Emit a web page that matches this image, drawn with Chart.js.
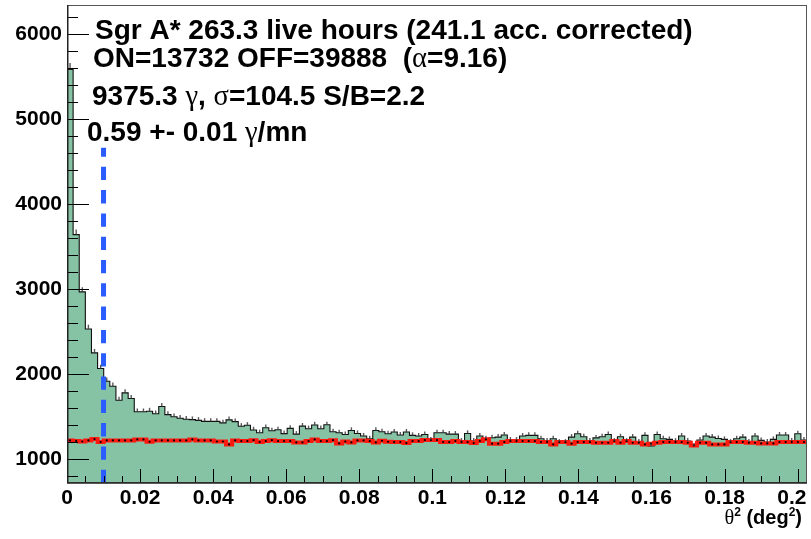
<!DOCTYPE html>
<html>
<head>
<meta charset="utf-8">
<script src="https://cdn.jsdelivr.net/npm/chart.js@4.4.1/dist/chart.umd.min.js"></script>
<style>
  html, body { margin: 0; padding: 0; background: #fff; }
</style>
</head>
<body>
<canvas id="theta2" width="811" height="539"></canvas>
<script>
// theta^2 histogram, ON counts per bin (bin width ~0.00167 deg^2)
const binWidth = 0.001674;
const onCounts = [
  5586, 3640, 2965, 2529, 2247, 2062, 1913, 1854, 1689, 1776,
  1709, 1553, 1553, 1560, 1529, 1615, 1520, 1495, 1476, 1465,
  1460, 1452, 1440, 1440, 1440, 1422, 1458, 1437, 1382, 1394,
  1339, 1306, 1365, 1330, 1341, 1296, 1358, 1290, 1384, 1353,
  1398, 1353, 1400, 1318, 1306, 1286, 1333, 1298, 1267, 1235,
  1333, 1318, 1294, 1314, 1279, 1314, 1275, 1267, 1286, 1220,
  1306, 1306, 1290, 1290, 1208, 1298, 1208, 1267, 1235, 1247,
  1255, 1279, 1220, 1220, 1267, 1275, 1275, 1235, 1208, 1235,
  1196, 1196, 1255, 1294, 1259, 1208, 1245, 1259, 1286, 1208,
  1259, 1208, 1255, 1196, 1275, 1149, 1286, 1235, 1228, 1208,
  1267, 1208, 1149, 1220, 1267, 1255, 1239, 1228, 1196, 1235,
  1255, 1196, 1267, 1216, 1196, 1228, 1279, 1279, 1208, 1294,
  1220
];
// error bar half-length (counts)
const onErr = [
  75, 60, 54, 50, 47, 45, 44, 43, 41, 42, 41, 39, 39, 40, 39, 40, 39, 39, 38, 38,
  38, 38, 38, 38, 38, 38, 38, 38, 37, 37, 37, 36, 37, 36, 37, 36, 37, 36, 37, 37,
  37, 37, 37, 36, 36, 36, 37, 36, 36, 35, 37, 36, 36, 36, 36, 36, 36, 36, 36, 35,
  36, 36, 36, 36, 35, 36, 35, 36, 35, 35, 35, 36, 35, 35, 36, 36, 36, 35, 35, 35,
  35, 35, 35, 36, 35, 35, 35, 35, 36, 35, 35, 35, 35, 35, 36, 34, 36, 35, 35, 35,
  36, 35, 34, 35, 36, 35, 35, 35, 35, 35, 35, 35, 36, 35, 35, 35, 36, 36, 35, 36,
  35
];
// OFF counts scaled by 1/alpha (red background)
const offScaled = [
  1215, 1210, 1203, 1215, 1231, 1196, 1215, 1215, 1215, 1215,
  1215, 1227, 1227, 1200, 1215, 1215, 1215, 1215, 1215, 1215,
  1227, 1215, 1215, 1215, 1203, 1203, 1168, 1215, 1208, 1208,
  1218, 1196, 1208, 1218, 1208, 1208, 1208, 1192, 1192, 1208,
  1227, 1208, 1208, 1218, 1180, 1203, 1192, 1215, 1215, 1208,
  1192, 1212, 1200, 1196, 1196, 1184, 1208, 1208, 1220, 1220,
  1220, 1196, 1196, 1208, 1196, 1196, 1184, 1208, 1228, 1177,
  1177, 1196, 1208, 1208, 1208, 1208, 1208, 1196, 1196, 1169,
  1196, 1196, 1177, 1196, 1196, 1196, 1188, 1188, 1188, 1208,
  1188, 1208, 1188, 1188, 1169, 1177, 1188, 1196, 1196, 1196,
  1196, 1188, 1157, 1188, 1188, 1169, 1169, 1169, 1196, 1196,
  1196, 1188, 1188, 1180, 1180, 1180, 1196, 1196, 1196, 1196,
  1196
];
const xTicks = [0, 0.02, 0.04, 0.06, 0.08, 0.1, 0.12, 0.14, 0.16, 0.18, 0.2];
const yTicks = [1000, 2000, 3000, 4000, 5000, 6000];
const xMin = 0, xMax = 0.20255;
const yMin = 714, yMax = 6345;
const cutTheta2 = 0.01;
const cutTop = 4662;

const infoLines = [
  [['Sgr A* 263.3 live hours (241.1 acc. corrected)', 'b']],
  [['ON=13732 OFF=39888  (', 'b'], ['\u03b1', 'g'], ['=9.16)', 'b']],
  [['9375.3 ', 'b'], ['\u03b3', 'g'], [', ', 'b'], ['\u03c3', 'g'], ['=104.5 S/B=2.2', 'b']],
  [['0.59 +- 0.01 ', 'b'], ['\u03b3', 'g'], ['/mn', 'b']]
];
const xTitle = [['\u03b8', 'g'], ['2', 's'], [' (deg', 'b'], ['2', 's'], [')', 'b']];

const SANS = '"Liberation Sans", Arial, Helvetica, sans-serif';
const SERIF = '"Liberation Serif", "DejaVu Serif", serif';

const histPts = onCounts.map((v, i) => ({x: i * binWidth, y: v}));
histPts.push({x: onCounts.length * binWidth, y: onCounts[onCounts.length - 1]});
const bgPts = offScaled.map((v, i) => ({x: i * binWidth, y: v}));
bgPts.push({x: offScaled.length * binWidth, y: offScaled[offScaled.length - 1]});
const bgDots = offScaled.map((v, i) => ({x: (i + 0.5) * binWidth, y: v}));

function drawSegs(ctx, segs, x, y, size) {
  let cx = x;
  segs.forEach(([t, k]) => {
    let dy = 0;
    if (k === 'b') ctx.font = 'bold ' + size + 'px ' + SANS;
    else if (k === 'g') ctx.font = (size * 1.02) + 'px ' + SERIF;
    else { ctx.font = 'bold ' + Math.round(size * 0.62) + 'px ' + SANS; dy = -size * 0.42; }
    ctx.fillText(t, cx, y + dy);
    cx += ctx.measureText(t).width;
  });
  return cx;
}

const rootStyle = {
  id: 'rootStyle',
  afterDatasetsDraw(chart) {
    const {ctx, chartArea: a, scales: {x, y}} = chart;
    ctx.save();
    // error bars on the ON histogram
    ctx.strokeStyle = 'rgba(60,60,60,0.85)';
    ctx.lineWidth = 1.4;
    onCounts.forEach((v, i) => {
      const px = x.getPixelForValue((i + 0.5) * binWidth);
      ctx.beginPath();
      ctx.moveTo(px, y.getPixelForValue(v));
      ctx.lineTo(px, y.getPixelForValue(v + onErr[i]));
      ctx.stroke();
    });
    // inside ticks
    ctx.strokeStyle = '#000';
    ctx.lineWidth = 1;
    ctx.beginPath();
    for (let v = 800; v <= yMax; v += 200) {
      const py = Math.round(y.getPixelForValue(v)) + 0.5;
      const len = v % 1000 === 0 ? 22 : 11;
      ctx.moveTo(a.left, py);
      ctx.lineTo(a.left + len, py);
    }
    for (let k = 1; k * 0.005 <= xMax; k++) {
      const px = Math.round(x.getPixelForValue(k * 0.005)) + 0.5;
      const len = k % 4 === 0 ? 14 : 7;
      ctx.moveTo(px, a.bottom);
      ctx.lineTo(px, a.bottom - len);
    }
    ctx.stroke();
    // frame
    ctx.strokeStyle = '#555';
    ctx.lineWidth = 1;
    ctx.strokeRect(a.left + 0.5, a.top + 0.5, a.width - 1, a.height - 1);
    ctx.strokeStyle = '#222';
    ctx.lineWidth = 1.5;
    ctx.beginPath();
    ctx.moveTo(a.left + 0.75, a.top);
    ctx.lineTo(a.left + 0.75, a.bottom);
    ctx.lineTo(a.right, a.bottom);
    ctx.stroke();
    ctx.restore();
  },
  afterDraw(chart) {
    const ctx = chart.ctx;
    ctx.save();
    ctx.fillStyle = '#000';
    ctx.textBaseline = 'alphabetic';
    ctx.textAlign = 'left';
    const starts = [[95, 39], [93, 67], [92, 105], [87, 141]];
    infoLines.forEach((segs, i) => drawSegs(ctx, segs, starts[i][0], starts[i][1], 28));
    // axis title, right aligned
    const probe = document.createElement('canvas').getContext('2d');
    const w = drawSegs(probe, xTitle, 0, 0, 20);
    drawSegs(ctx, xTitle, 802 - w, 524, 20);
    ctx.restore();
  }
};

new Chart(document.getElementById('theta2'), {
  type: 'line',
  data: {
    datasets: [
      {
        label: 'ON',
        data: histPts,
        stepped: 'before',
        borderColor: '#111',
        borderWidth: 1.1,
        backgroundColor: '#86c3a4',
        fill: 'start',
        pointRadius: 0,
        order: 4
      },
      {
        label: 'OFF scaled',
        data: bgPts,
        stepped: 'before',
        borderColor: '#ff1a10',
        borderWidth: 4,
        fill: false,
        pointRadius: 0,
        order: 3
      },
      {
        label: 'OFF points',
        data: bgDots,
        showLine: false,
        pointRadius: 1.1,
        pointBackgroundColor: '#000',
        pointBorderWidth: 0,
        order: 2
      },
      {
        label: 'cut',
        data: [{x: cutTheta2, y: yMin}, {x: cutTheta2, y: cutTop}],
        borderColor: '#2a5cff',
        borderWidth: 5,
        borderDash: [13.3, 10],
        borderCapStyle: 'butt',
        pointRadius: 0,
        fill: false,
        order: 1
      }
    ]
  },
  options: {
    responsive: false,
    animation: false,
    devicePixelRatio: 1,
    layout: { padding: { left: 0, top: 5, right: 4, bottom: 0 } },
    plugins: { legend: { display: false }, tooltip: { enabled: false } },
    scales: {
      x: {
        type: 'linear',
        min: xMin,
        max: xMax,
        grid: { display: false, drawTicks: false },
        border: { display: false },
        afterBuildTicks: (s) => { s.ticks = xTicks.map(v => ({value: v})); },
        afterFit: (s) => { s.height = 56; s.paddingLeft = 0; s.paddingRight = 0; },
        ticks: {
          padding: 3,
          maxRotation: 0,
          autoSkip: false,
          color: '#000',
          font: { family: SANS, size: 21, weight: 'bold' },
          callback: (v) => v === 0.2 ? '0.2  ' : String(v)
        }
      },
      y: {
        min: yMin,
        max: yMax,
        grid: { display: false, drawTicks: false },
        border: { display: false },
        afterBuildTicks: (s) => { s.ticks = yTicks.map(v => ({value: v})); },
        afterFit: (s) => { s.width = 67; s.paddingTop = 0; s.paddingBottom = 0; },
        ticks: {
          padding: 5,
          autoSkip: false,
          color: '#000',
          font: { family: SANS, size: 21, weight: 'bold' },
          callback: (v) => String(v)
        }
      }
    }
  },
  plugins: [rootStyle]
});
</script>
</body>
</html>
